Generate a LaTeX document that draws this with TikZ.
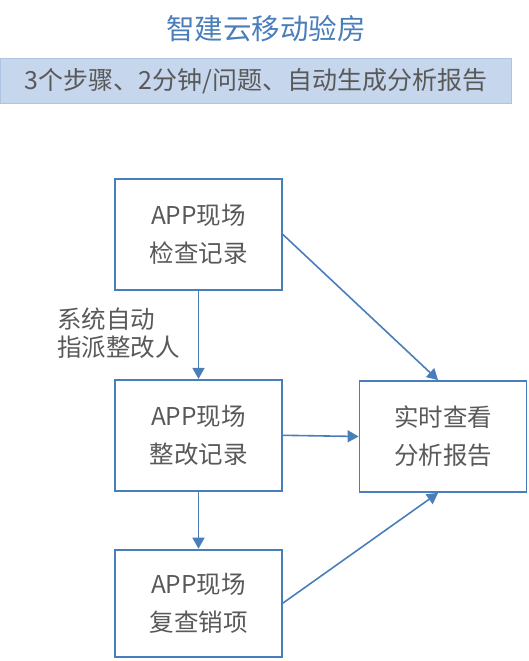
\documentclass[tikz,border=0pt]{standalone}
\usepackage{fontspec}
\setmainfont{Noto Sans CJK SC}
\usepackage{tikz}
\usetikzlibrary{arrows.meta,positioning,calc}
\definecolor{rblue}{HTML}{4A7EBB}
\definecolor{lblue}{HTML}{C6D6EC}
\definecolor{tgray}{HTML}{595959}
\tikzset{
 box/.style={draw=rblue,line width=1.8pt,align=center,minimum width=167pt,
   minimum height=111pt,text=tgray,font=\fontsize{24.5}{38}\selectfont,fill=white},
 arrow/.style={-{Triangle[length=11pt,width=12pt]},line width=1.6pt,draw=rblue}
}

\begin{document}
\begin{tikzpicture}[x=1pt,y=-1pt]
 \useasboundingbox (0,0) rectangle (528,661);
 \node[text=rblue,font=\fontsize{28.5}{30}\selectfont] (title) at (266,29) {智建云移动验房};
 \node[draw=lblue!80!rblue,fill=lblue,line width=0.6pt,minimum width=511pt,minimum height=45pt,
   text=tgray,font=\fontsize{25}{28}\selectfont] (banner) at (256,81) {3个步骤、2分钟/问题、自动生成分析报告};
 \node[box] (check) at (198.5,234.5) {APP现场\\检查记录};
 \node[box,below=88pt of check] (fix) {APP现场\\整改记录};
 \node[box,below=57pt of fix,minimum height=107pt] (recheck) {APP现场\\复查销项};
 \node[box,minimum width=167pt] (report) at (443,436.5) {实时查看\\分析报告};
 \node[anchor=north west,align=left,text=tgray,font=\fontsize{24.5}{28}\selectfont,inner sep=0pt] (assign) at (57,308) {系统自动\\指派整改人};
 \draw[arrow] (check)--(fix);
 \draw[arrow] (fix)--(recheck);
 \draw[arrow] (check.east)--(report.95);
 \draw[arrow] (fix.east)--(report.west);
 \draw[arrow] (recheck.east)--(report.265);
\end{tikzpicture}
\end{document}
